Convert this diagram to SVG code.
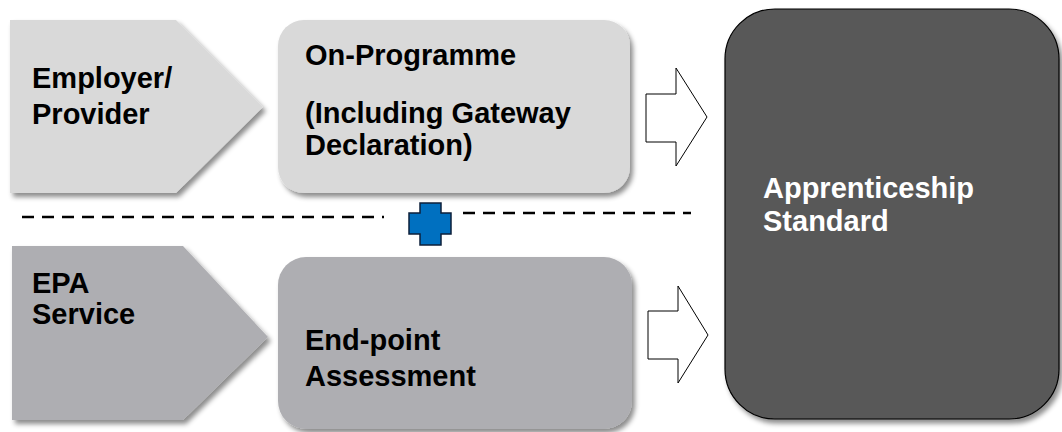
<svg xmlns="http://www.w3.org/2000/svg" width="1062" height="432" viewBox="0 0 1062 432">
<defs>
<filter id="sh" x="-10%" y="-10%" width="125%" height="130%">
<feDropShadow dx="3" dy="4" stdDeviation="2.5" flood-color="#000" flood-opacity="0.45"/>
</filter>
</defs>
<style>
.t{font-family:"Liberation Sans",Arial,sans-serif;font-weight:bold;font-size:29px;fill:#000}
.w{fill:#fff}
.up{fill:#d9d9d9}
.lo{fill:#aeaeb2}
.arr{fill:#fff;stroke:#000;stroke-width:1}
.dash{stroke:#000;stroke-width:2.5;stroke-dasharray:12,8;fill:none}
</style>
<rect width="1062" height="432" fill="#fff"/>
<g id="employer">
<polygon class="up" filter="url(#sh)" points="10,20 176,20 263,107 176,193 10,193"/>
<text class="t" x="32" y="88">Employer/</text>
<text class="t" x="32" y="124">Provider</text>
</g>
<g id="onprog">
<rect class="up" filter="url(#sh)" x="278" y="20" width="352" height="173" rx="26"/>
<text class="t" x="305" y="65">On-Programme</text>
<text class="t" x="305" y="123">(Including Gateway</text>
<text class="t" x="305" y="155">Declaration)</text>
</g>
<g id="epa">
<polygon class="lo" filter="url(#sh)" points="12,246 183,246 268,337 183,420 12,420"/>
<text class="t" x="32" y="293">EPA</text>
<text class="t" x="32" y="324">Service</text>
</g>
<g id="endpoint">
<rect class="lo" filter="url(#sh)" x="278" y="257" width="354" height="172" rx="28"/>
<text class="t" x="305" y="350">End-point</text>
<text class="t" x="305" y="386">Assessment</text>
</g>
<g id="standard">
<rect filter="url(#sh)" x="725" y="9" width="334" height="410" rx="50" fill="#595959" stroke="#000" stroke-width="1.2"/>
<text class="t w" x="763" y="198">Apprenticeship</text>
<text class="t w" x="763" y="231">Standard</text>
</g>
<g id="plus">
<polygon points="420,203 441,203 441,213 451,213 451,234 441,234 441,245 420,245 420,234 409,234 409,213 420,213" fill="#0070c0" stroke="#0d1f3a" stroke-width="1.5"/>
</g>
<g id="connectors">
<line class="dash" x1="22" y1="217" x2="384" y2="217"/>
<line class="dash" x1="463" y1="213" x2="691" y2="213"/>
<polygon class="arr" points="646,94 676,94 676,68 707,117 676,166 676,142 646,142"/>
<polygon class="arr" points="648,311 678,311 678,286 708,335 678,383 678,359 648,359"/>
</g>
</svg>
